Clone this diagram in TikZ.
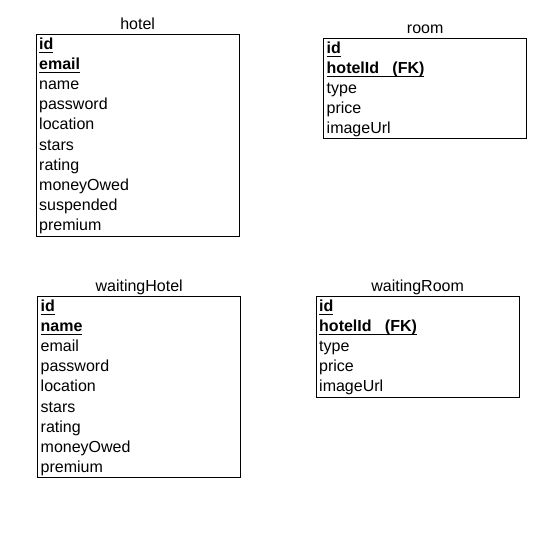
\documentclass[tikz,border=0pt]{standalone}
\usepackage{fontspec}
\setmainfont{Liberation Sans}

\newcommand{\keyfield}[1]{\setbox0\hbox{\textbf{#1}}\rlap{\rule[-4.1pt]{\wd0}{1.4pt}}\box0}

\tikzset{
    tablebox/.style={draw, line width=1.3pt, anchor=north west, inner sep=0pt, minimum width=203pt},
    tabletitle/.style={anchor=base, yshift=4.2pt, inner sep=0pt, font=\fontsize{16}{19}\selectfont},
    field/.style={anchor=base west, inner sep=0pt, font=\fontsize{16}{19}\selectfont}
}

\begin{document}
\begin{tikzpicture}[x=1pt, y=-1pt]
    \useasboundingbox (0,0) rectangle (539,533);

    % hotel
    \node[tablebox, minimum height=202pt] (hotel) at (35.5,34) {};
    \node[tabletitle] (hotel-title) at (hotel.north) {hotel};
    \foreach \f [count=\i from 0] in {\keyfield{id}, \keyfield{email}, name, password, location, stars, rating, moneyOwed, suspended, premium}
        \node[field] (hotel-\i) at ([xshift=3.5pt, yshift={-15pt-20.2pt*\i}]hotel.north west) {\f};

    % room
    \node[tablebox, minimum height=100pt] (room) at (323,38) {};
    \node[tabletitle] (room-title) at (room.north) {room};
    \foreach \f [count=\i from 0] in {\keyfield{id}, \keyfield{hotelId\ \ \ (FK)}, type, price, imageUrl}
        \node[field] (room-\i) at ([xshift=3.5pt, yshift={-15pt-20.2pt*\i}]room.north west) {\f};

    % waitingHotel
    \node[tablebox, minimum height=181pt] (waitingHotel) at (37,296) {};
    \node[tabletitle] (waitingHotel-title) at (waitingHotel.north) {waitingHotel};
    \foreach \f [count=\i from 0] in {\keyfield{id}, \keyfield{name}, email, password, location, stars, rating, moneyOwed, premium}
        \node[field] (waitingHotel-\i) at ([xshift=3.5pt, yshift={-15pt-20.2pt*\i}]waitingHotel.north west) {\f};

    % waitingRoom
    \node[tablebox, minimum height=101pt] (waitingRoom) at (315.5,296) {};
    \node[tabletitle] (waitingRoom-title) at (waitingRoom.north) {waitingRoom};
    \foreach \f [count=\i from 0] in {\keyfield{id}, \keyfield{hotelId\ \ \ (FK)}, type, price, imageUrl}
        \node[field] (waitingRoom-\i) at ([xshift=3.5pt, yshift={-15pt-20.2pt*\i}]waitingRoom.north west) {\f};
\end{tikzpicture}
\end{document}
